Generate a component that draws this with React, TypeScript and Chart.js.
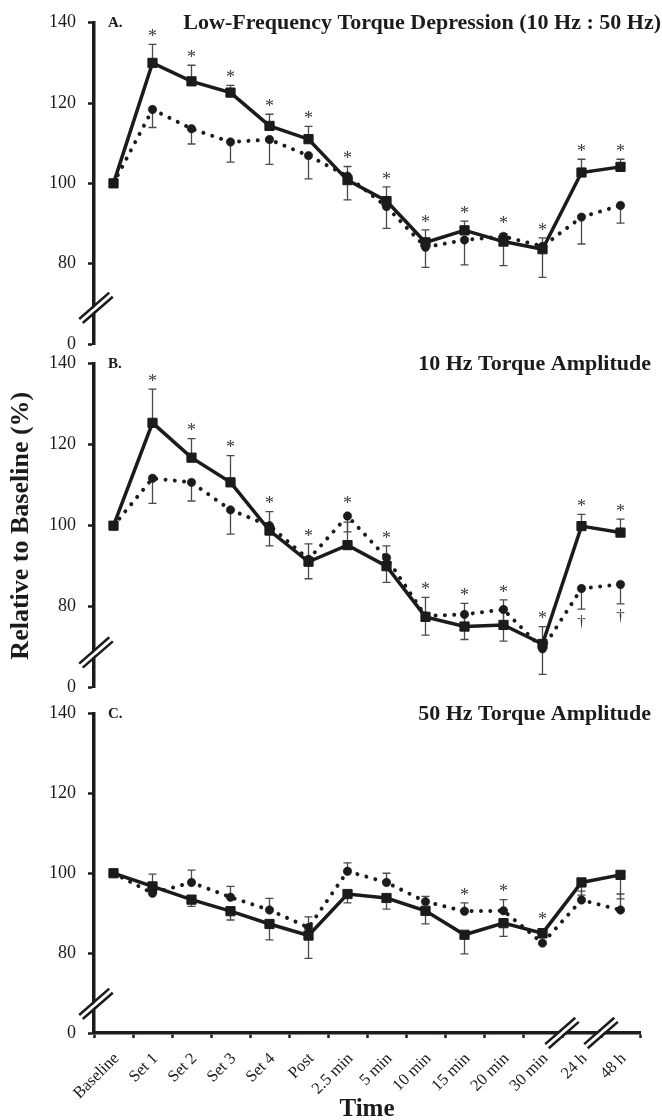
import React, { useEffect, useRef } from "react";
import { Chart, registerables } from "chart.js";

Chart.register(...registerables);

// ---------- data ----------
const categories = [
  "Baseline", "Set 1", "Set 2", "Set 3", "Set 4", "Post",
  "2.5 min", "5 min", "10 min", "15 min", "20 min", "30 min", "24 h", "48 h",
];
const yTickValues = [60, 80, 100, 120, 140];
const yTickLabels = ["0", "80", "100", "120", "140"];

// Panel A: Low-Frequency Torque Depression (10 Hz : 50 Hz)
const lftdSolid = [100, 130.0, 125.4, 122.6, 114.3, 111.0, 100.8, 95.6, 85.3, 88.3, 85.5, 83.6, 102.7, 104.1];
const lftdDotted = [100, 118.4, 113.6, 110.3, 110.9, 106.9, 101.8, 94.2, 84.1, 85.9, 86.8, 84.3, 91.6, 94.5];
const lftdSolidErr = [null, 134.6, 129.4, 124.4, 117.2, 114.2, 104.2, 99.1, 88.4, 90.6, 87.5, 86.4, 106.0, 106.0];
const lftdDottedErr = [null, 113.9, 109.8, 105.3, 104.7, 101.1, 95.9, 88.8, 79.1, 79.7, 79.5, 76.6, 84.9, 90.1];
const lftdStars = [0, 1, 1, 1, 1, 1, 1, 1, 1, 1, 1, 1, 1, 1];
const lftdDaggers = [0, 0, 0, 0, 0, 0, 0, 0, 0, 0, 0, 0, 0, 0];

// Panel B: 10 Hz Torque Amplitude
const tenSolid = [100, 125.4, 116.8, 110.7, 98.8, 91.1, 95.2, 90.0, 77.5, 75.1, 75.5, 70.8, 99.9, 98.3];
const tenDotted = [100, 111.7, 110.7, 103.9, 100.0, 91.7, 102.4, 92.1, 77.7, 78.1, 79.3, 69.6, 84.5, 85.5];
const tenSolidErr = [null, 133.7, 121.5, 117.3, 103.5, 95.5, 100.9, 95.0, 82.3, 80.8, 81.7, 75.1, 102.8, 101.6];
const tenDottedErr = [null, 105.5, 106.1, 97.9, 95.0, 86.9, 98.5, 86.0, 73.0, 71.9, 71.5, 63.3, 79.4, 80.7];
const tenStars = [0, 1, 1, 1, 1, 1, 1, 1, 1, 1, 1, 1, 1, 1];
const tenDaggers = [0, 0, 0, 0, 0, 0, 0, 0, 0, 0, 0, 0, 1, 1];

// Panel C: 50 Hz Torque Amplitude
const fiftySolid = [100, 96.7, 93.4, 90.5, 87.3, 84.4, 94.8, 93.8, 90.6, 84.6, 87.5, 85.0, 97.7, 99.6];
const fiftyDotted = [100, 95.0, 97.7, 94.0, 90.8, 86.4, 100.5, 97.7, 92.9, 90.5, 90.6, 82.5, 93.3, 90.8];
const fiftySolidErr = [null, 95.5, 91.7, 88.3, 83.3, 78.7, 92.6, 91.0, 87.3, 79.8, 84.2, 83.8, 94.5, 93.6];
const fiftyDottedErr = [null, 99.8, 100.8, 96.7, 93.7, 89.1, 102.6, 100.0, 94.2, 92.6, 93.4, 84.0, 95.5, 94.8];
const fiftyStars = [0, 0, 0, 0, 0, 0, 0, 0, 0, 1, 1, 1, 0, 0];
const fiftyDaggers = [0, 0, 0, 0, 0, 0, 0, 0, 0, 0, 0, 0, 0, 0];

// ---------- style ----------
const FONT = "'Liberation Serif', 'Times New Roman', Times, serif";
const INK = "#1c1a1b";
const ERR = "#4a4a4a";
const MARK = "#3a3a3a";

type Panel = {
  solid: number[];
  dotted: number[];
  solidErr: (number | null)[];
  dottedErr: (number | null)[];
  stars: number[];
  daggers: number[];
  letter: string;
  title: string;
  titleRight: number;
  yBreak: number;
  xBreaks: number[];
  showX: boolean;
  yTitle: boolean;
  top: number;
  height: number;
  padTop: number;
  padBottom: number;
};

const panels: Panel[] = [
  {
    solid: lftdSolid, dotted: lftdDotted, solidErr: lftdSolidErr, dottedErr: lftdDottedErr,
    stars: lftdStars, daggers: lftdDaggers, letter: "A.",
    title: "Low-Frequency Torque Depression (10 Hz : 50 Hz)", titleRight: 661,
    yBreak: 69, xBreaks: [], showX: false, yTitle: false,
    top: -3, height: 372, padTop: 25.7, padBottom: 25,
  },
  {
    solid: tenSolid, dotted: tenDotted, solidErr: tenSolidErr, dottedErr: tenDottedErr,
    stars: tenStars, daggers: tenDaggers, letter: "B.",
    title: "10 Hz Torque Amplitude", titleRight: 651,
    yBreak: 68.7, xBreaks: [], showX: false, yTitle: true,
    top: 338, height: 375, padTop: 25.7, padBottom: 25.3,
  },
  {
    solid: fiftySolid, dotted: fiftyDotted, solidErr: fiftySolidErr, dottedErr: fiftyDottedErr,
    stars: fiftyStars, daggers: fiftyDaggers, letter: "C.",
    title: "50 Hz Torque Amplitude", titleRight: 651,
    yBreak: 67.3, xBreaks: [11, 12], showX: true, yTitle: false,
    top: 688, height: 432, padTop: 25.5, padBottom: 0,
  },
];

function drawBreak(ctx: CanvasRenderingContext2D, cx: number, cy: number) {
  const ang = Math.atan2(28, 32);
  const ux = Math.cos(ang);
  const uy = -Math.sin(ang);
  const px = -uy;
  const py = ux;
  const half = 20;
  ctx.save();
  ctx.lineCap = "butt";
  ctx.strokeStyle = "#ffffff";
  ctx.lineWidth = 3;
  ctx.beginPath();
  ctx.moveTo(cx - ux * (half + 2), cy - uy * (half + 2));
  ctx.lineTo(cx + ux * (half + 2), cy + uy * (half + 2));
  ctx.stroke();
  ctx.strokeStyle = INK;
  ctx.lineWidth = 2.5;
  for (const s of [-1, 1]) {
    const ox = px * 2.7 * s;
    const oy = py * 2.7 * s;
    ctx.beginPath();
    ctx.moveTo(cx + ox - ux * half, cy + oy - uy * half);
    ctx.lineTo(cx + ox + ux * half, cy + oy + uy * half);
    ctx.stroke();
  }
  ctx.restore();
}

function makeDeco(p: Panel) {
  return {
    id: "deco",
    beforeDatasetsDraw(chart: any) {
      const { ctx } = chart;
      const xs = chart.scales.x;
      const ys = chart.scales.y;
      ctx.save();
      ctx.strokeStyle = ERR;
      ctx.lineWidth = 1.3;
      const series: [number[], (number | null)[]][] = [
        [p.solid, p.solidErr],
        [p.dotted, p.dottedErr],
      ];
      for (const [vals, errs] of series) {
        vals.forEach((v, i) => {
          const e = errs[i];
          if (e == null) return;
          const x = xs.getPixelForValue(i);
          const y0 = ys.getPixelForValue(v);
          const y1 = ys.getPixelForValue(e);
          ctx.beginPath();
          ctx.moveTo(x, y0);
          ctx.lineTo(x, y1);
          ctx.moveTo(x - 4, y1);
          ctx.lineTo(x + 4, y1);
          ctx.stroke();
        });
      }
      ctx.restore();
    },
    afterDraw(chart: any) {
      const { ctx, chartArea } = chart;
      const xs = chart.scales.x;
      const ys = chart.scales.y;
      ctx.save();
      // significance marks
      ctx.fillStyle = MARK;
      ctx.textAlign = "center";
      ctx.textBaseline = "middle";
      p.stars.forEach((f, i) => {
        if (!f) return;
        const cands = [
          ys.getPixelForValue(p.solid[i]) - 6,
          ys.getPixelForValue(p.dotted[i]) - 5,
        ];
        if (p.solidErr[i] != null) cands.push(ys.getPixelForValue(p.solidErr[i]));
        if (p.dottedErr[i] != null) cands.push(ys.getPixelForValue(p.dottedErr[i]));
        const top = Math.min(...cands);
        ctx.font = `18px ${FONT}`;
        ctx.fillText("*", xs.getPixelForValue(i), top - 7);
      });
      p.daggers.forEach((f, i) => {
        if (!f) return;
        const cands = [ys.getPixelForValue(p.dotted[i]) + 5];
        if (p.dottedErr[i] != null) cands.push(ys.getPixelForValue(p.dottedErr[i]));
        const bottom = Math.max(...cands);
        ctx.font = `17px ${FONT}`;
        ctx.fillText("\u2020", xs.getPixelForValue(i), bottom + 13);
      });
      // panel letter and title
      ctx.fillStyle = INK;
      ctx.textBaseline = "alphabetic";
      ctx.textAlign = "left";
      ctx.font = `bold 15px ${FONT}`;
      ctx.fillText(p.letter, 108, chartArea.top + 4);
      ctx.textAlign = "right";
      ctx.font = `bold 22px ${FONT}`;
      ctx.fillText(p.title, p.titleRight, chartArea.top + 6.5);
      ctx.restore();
      // axis breaks
      drawBreak(ctx, chartArea.left + 2, ys.getPixelForValue(p.yBreak));
      for (const b of p.xBreaks) {
        const bx = (xs.getPixelForValue(b) + xs.getPixelForValue(b + 1)) / 2;
        drawBreak(ctx, bx, chartArea.bottom);
      }
    },
  };
}

function PanelChart({ p }: { p: Panel }) {
  const ref = useRef<HTMLCanvasElement | null>(null);
  useEffect(() => {
    if (!ref.current) return;
    const chart = new Chart(ref.current, {
      type: "line",
      data: {
        labels: categories,
        datasets: [
          {
            data: p.solid,
            borderColor: INK,
            backgroundColor: INK,
            borderWidth: 3.5,
            tension: 0,
            pointStyle: "rect",
            pointRadius: 6.5,
            pointBorderWidth: 1,
            pointBackgroundColor: INK,
            pointBorderColor: INK,
          },
          {
            data: p.dotted,
            borderColor: INK,
            backgroundColor: INK,
            borderWidth: 4,
            borderDash: [0.01, 9.3],
            borderCapStyle: "round",
            tension: 0,
            pointStyle: "circle",
            pointRadius: 4.2,
            pointBorderWidth: 0.6,
            pointBackgroundColor: INK,
            pointBorderColor: INK,
          },
        ],
      },
      options: {
        responsive: false,
        animation: false,
        devicePixelRatio: 1,
        layout: { padding: { left: 0, right: 22, top: p.padTop, bottom: p.padBottom } },
        plugins: { legend: { display: false }, tooltip: { enabled: false }, title: { display: false } },
        scales: {
          x: {
            type: "category",
            offset: true,
            display: p.showX,
            grid: {
              offset: true, drawOnChartArea: false, drawTicks: true,
              tickLength: 5, tickWidth: 2.5, tickColor: INK, color: INK,
            },
            border: { display: true, color: INK, width: 3.5 },
            ticks: {
              autoSkip: false, minRotation: 45, maxRotation: 45,
              font: { family: FONT, size: 16.5 }, color: INK, padding: 11, labelOffset: 3,
            },
            title: {
              display: true, text: "Time", color: INK,
              font: { family: FONT, size: 25, weight: "bold", lineHeight: 1 },
              padding: { top: 0, bottom: -2 },
            },
            afterFit: (s: any) => { s.height = p.showX ? 87 : 0; },
          },
          y: {
            min: 60,
            max: 140,
            afterBuildTicks: (s: any) => { s.ticks = yTickValues.map((v) => ({ value: v })); },
            ticks: {
              callback: (v: any) => {
                const k = yTickValues.indexOf(Number(v));
                return k >= 0 ? yTickLabels[k] : "";
              },
              font: { family: FONT, size: 18 }, color: INK, padding: 12,
            },
            grid: {
              drawOnChartArea: false, drawTicks: true, tickLength: 6,
              tickWidth: 2.5, tickColor: INK, color: INK,
            },
            border: { display: true, color: INK, width: 3.5 },
            title: {
              display: p.yTitle, text: "Relative to Baseline (%)", color: INK,
              font: { family: FONT, size: 26, weight: "bold", lineHeight: 1 },
              padding: { top: 8, bottom: 0 },
            },
            afterFit: (s: any) => { s.width = 94; },
          },
        },
      } as any,
      plugins: [makeDeco(p) as any],
    });
    return () => chart.destroy();
  }, [p]);
  return (
    <canvas
      ref={ref}
      width={662}
      height={p.height}
      style={{ position: "absolute", left: 0, top: p.top, width: 662, height: p.height }}
    />
  );
}

export default function App() {
  return (
    <div style={{ position: "absolute", left: 0, top: 0, width: 662, height: 1120, background: "#ffffff", overflow: "hidden" }}>
      {panels.map((p, i) => (
        <PanelChart key={i} p={p} />
      ))}
    </div>
  );
}
